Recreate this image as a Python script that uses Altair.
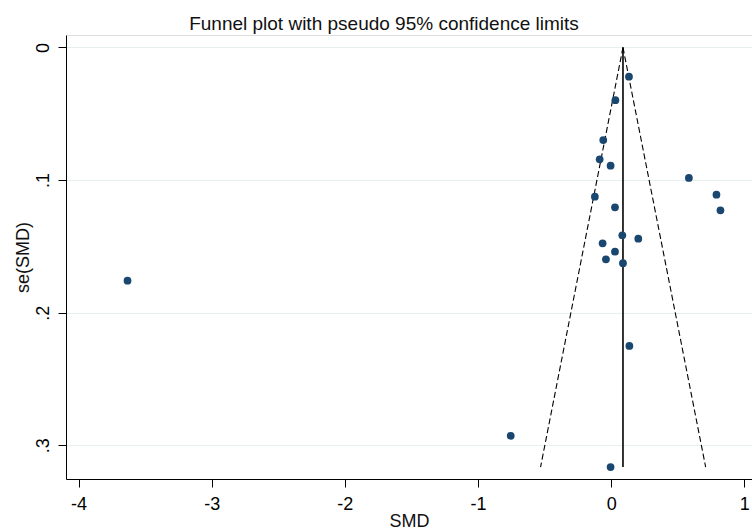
import altair as alt
import pandas as pd

# Study estimates
smd = [0.134, 0.032, -0.059, -0.086, -0.004, 0.584, 0.791, 0.821, -0.122, 0.029,
       0.084, 0.204, -0.064, 0.029, -0.039, 0.089, 0.137, -0.754, -0.004, -3.632]
se = [0.0220, 0.0398, 0.0698, 0.0843, 0.0891, 0.0984, 0.1110, 0.1228, 0.1125, 0.1205,
      0.1416, 0.1442, 0.1477, 0.1540, 0.1597, 0.1627, 0.2251, 0.2928, 0.3164, 0.1759]

# Pooled estimate line and pseudo 95% limits
pooled_x = [0.089, 0.089]
pooled_y = [0.0, 0.3164]
funnel_lo_x = [0.089, -0.53]
funnel_hi_x = [0.089, 0.71]
funnel_y = [0.0, 0.3164]

x_ticks = [-4, -3, -2, -1, 0, 1]
y_ticks = [0, 0.1, 0.2, 0.3]

points = pd.DataFrame({"SMD": smd, "se": se})
funnel = pd.DataFrame({
    "SMD": funnel_lo_x + funnel_hi_x,
    "se": funnel_y + funnel_y,
    "side": ["lo", "lo", "hi", "hi"],
})
pooled = pd.DataFrame({"SMD": pooled_x, "se": pooled_y})

FONT = "Liberation Sans"

x_enc = alt.X(
    "SMD:Q",
    scale=alt.Scale(domain=[-4.094, 1.058], nice=False, zero=False),
    axis=alt.Axis(
        values=x_ticks, labelExpr="'' + datum.value", grid=False,
        tickSize=8, tickColor="black", domainColor="black",
        labelPadding=8, labelFontSize=18, labelColor="black", labelFont=FONT,
        title="SMD", titleFontSize=18, titleFontWeight="normal", titleColor="#111",
        titleFont=FONT, titleBaseline="alphabetic", titleY=47,
    ),
)
y_enc = alt.Y(
    "se:Q",
    scale=alt.Scale(domain=[-0.0094, 0.3254], reverse=True, nice=False, zero=False),
    axis=alt.Axis(
        values=y_ticks,
        labelExpr="datum.value == 0 ? '0' : replace(toString(datum.value), '0.', '.')",
        grid=True, gridColor="#e8eff1", gridWidth=1,
        tickSize=8, tickColor="black", domainColor="black",
        labelAngle=270, labelAlign="center", labelBaseline="alphabetic",
        labelPadding=10, labelFontSize=18, labelColor="black", labelFont=FONT,
        title="se(SMD)", titleFontSize=18, titleFontWeight="normal", titleColor="#111",
        titleFont=FONT, titleAngle=270, titleBaseline="alphabetic", titleX=-38,
    ),
)

funnel_layer = alt.Chart(funnel).mark_line(
    color="black", strokeWidth=1.1, strokeDash=[6, 3]
).encode(x=x_enc, y=y_enc, detail="side:N", order="se:Q")

pooled_layer = alt.Chart(pooled).mark_line(
    color="black", strokeWidth=1.6
).encode(x=x_enc, y=y_enc)

point_layer = alt.Chart(points).mark_point(
    filled=True, shape="circle", size=60, color="#1a476f", opacity=1
).encode(x=x_enc, y=y_enc)

chart = alt.layer(funnel_layer, pooled_layer, point_layer).properties(
    width=686,
    height=444,
    autosize=alt.AutoSizeParams(type="none"),
    padding={"left": 66, "top": 35, "right": 0, "bottom": 51},
    title=alt.TitleParams(
        "Funnel plot with pseudo 95% confidence limits",
        fontSize=19, fontWeight="normal", font=FONT, color="#111",
        anchor="middle", dx=-25, dy=21, offset=7, baseline="alphabetic",
    ),
).configure_view(stroke=None).configure(background="white")

chart.save("out.html", embed_options={"renderer": "svg", "actions": False})
